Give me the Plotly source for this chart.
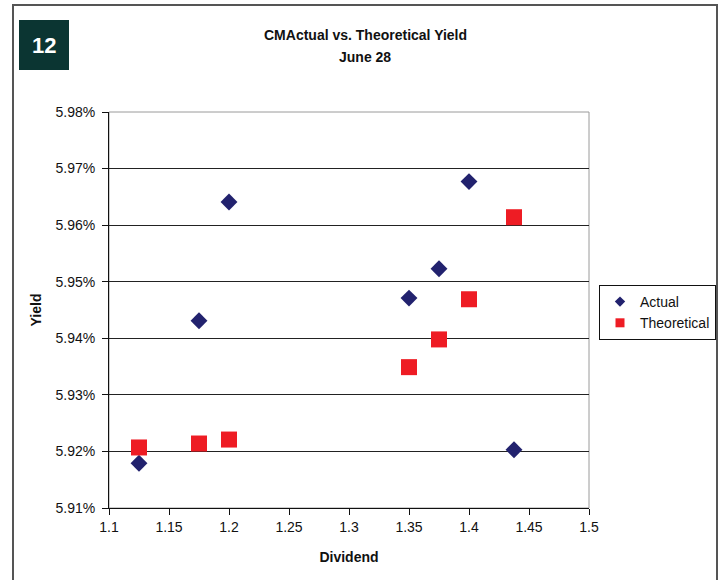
import plotly.graph_objects as go

dividend = [1.125, 1.175, 1.2, 1.35, 1.375, 1.4, 1.4375]
actual_yield = [5.9179, 5.9431, 5.9641, 5.9471, 5.9523, 5.9677, 5.9203]
theoretical_yield = [5.9207, 5.9214, 5.9221, 5.9349, 5.9398, 5.9469, 5.9614]

x_ticks = [1.1, 1.15, 1.2, 1.25, 1.3, 1.35, 1.4, 1.45, 1.5]
y_ticks = [5.91, 5.92, 5.93, 5.94, 5.95, 5.96, 5.97, 5.98]

FONT = "Liberation Sans, Arial, sans-serif"
W, H = 722, 580
L, R, T, B = 109, 133, 112, 72
pw, ph = W - L - R, H - T - B

ACTUAL_COLOR = "#22226e"
THEO_COLOR = "#ee1c24"


def px_x(p):
    return (p - L) / pw


def px_y(p):
    return (H - B - p) / ph


fig = go.Figure()
fig.add_trace(go.Scatter(
    x=dividend, y=actual_yield, mode="markers", name="Actual", showlegend=False,
    marker=dict(symbol="diamond", size=13, color=ACTUAL_COLOR, line=dict(width=0)),
))
fig.add_trace(go.Scatter(
    x=dividend, y=theoretical_yield, mode="markers", name="Theoretical", showlegend=False,
    marker=dict(symbol="square", size=16, color=THEO_COLOR, line=dict(width=0)),
))
# legend entries with small symbols (no data)
fig.add_trace(go.Scatter(
    x=[None], y=[None], mode="markers", name="Actual",
    marker=dict(symbol="diamond", size=8, color=ACTUAL_COLOR, line=dict(width=0)),
))
fig.add_trace(go.Scatter(
    x=[None], y=[None], mode="markers", name="Theoretical",
    marker=dict(symbol="square", size=9, color=THEO_COLOR, line=dict(width=0)),
))

shapes = [
    dict(type="rect", xref="paper", yref="paper",
         x0=px_x(13), x1=px_x(717), y0=px_y(600), y1=px_y(5),
         line=dict(color="#555555", width=2), layer="below"),
    dict(type="rect", xref="paper", yref="paper", x0=0, x1=1, y0=0, y1=1,
         line=dict(color="#9a9a9a", width=1), layer="below"),
    dict(type="rect", xref="paper", yref="paper",
         x0=px_x(19), x1=px_x(69), y0=px_y(70), y1=px_y(20),
         fillcolor="#0b3532", line=dict(width=0)),
]

annotations = [
    dict(text="<b>12</b>", xref="paper", yref="paper", x=px_x(44), y=px_y(45),
         showarrow=False, font=dict(family=FONT, size=22, color="white"),
         xanchor="center", yanchor="middle"),
    dict(text="<b>CMActual vs. Theoretical Yield</b>", xref="paper", yref="paper",
         x=px_x(365), y=px_y(35), showarrow=False, xanchor="center", yanchor="middle",
         font=dict(family=FONT, size=14, color="#111111")),
    dict(text="<b>June 28</b>", xref="paper", yref="paper",
         x=px_x(365), y=px_y(57), showarrow=False, xanchor="center", yanchor="middle",
         font=dict(family=FONT, size=14, color="#111111")),
]

fig.update_layout(
    width=W, height=H,
    margin=dict(l=L, r=R, t=T, b=B, pad=0, autoexpand=False),
    paper_bgcolor="white", plot_bgcolor="white",
    font=dict(family=FONT, size=14, color="#111111"),
    showlegend=True,
    legend=dict(
        x=px_x(599), y=px_y(285), xanchor="left", yanchor="top",
        bordercolor="#111111", borderwidth=1, bgcolor="white",
        font=dict(family=FONT, size=14, color="#111111"),
        itemwidth=30, tracegroupgap=0,
    ),
    shapes=shapes,
    annotations=annotations,
    xaxis=dict(
        range=[1.1, 1.5], tickvals=x_ticks, ticktext=[f"{v:g}" for v in x_ticks],
        showgrid=False, zeroline=False,
        showline=True, linecolor="#111111", linewidth=1,
        ticks="outside", ticklen=6, tickcolor="#111111",
        tickfont=dict(family=FONT, size=14, color="#111111"),
        title=dict(text="<b>Dividend</b>", font=dict(family=FONT, size=14, color="#111111"), standoff=18),
    ),
    yaxis=dict(
        range=[5.91, 5.98], tickvals=y_ticks, ticktext=[f"{v:.2f}%" for v in y_ticks],
        showgrid=True, gridcolor="#222222", gridwidth=1, zeroline=False,
        showline=True, linecolor="#111111", linewidth=1,
        ticks="outside", ticklen=6, tickcolor="#111111",
        ticklabelstandoff=4,
        tickfont=dict(family=FONT, size=14, color="#111111"),
        title=dict(text="<b>Yield</b>", font=dict(family=FONT, size=14, color="#111111"), standoff=10),
    ),
)

fig.write_html("out.html")
